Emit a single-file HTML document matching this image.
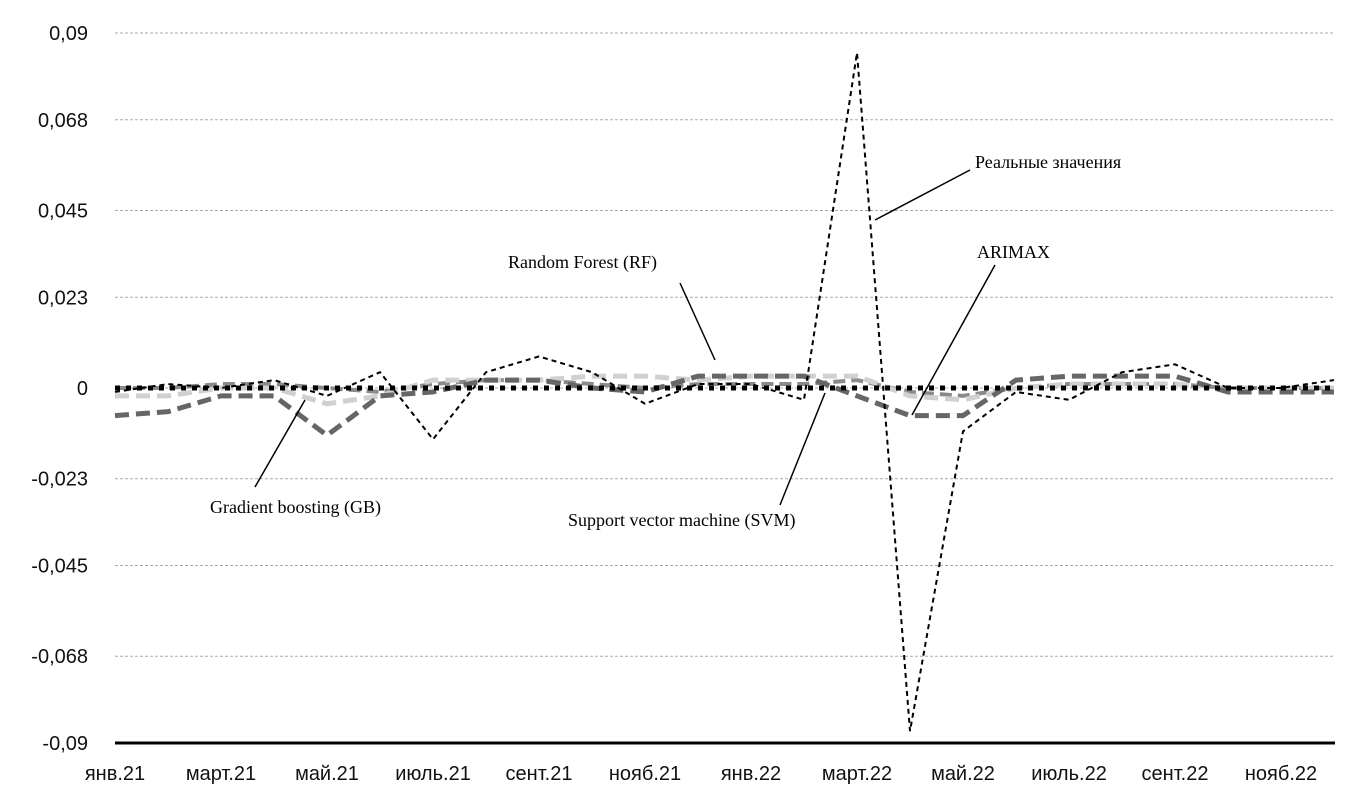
<!DOCTYPE html>
<html><head><meta charset="utf-8"><style>
body{margin:0;background:#fff;width:1354px;height:793px;overflow:hidden}
svg text{font-family:"Liberation Sans",sans-serif}
.ann{font-family:"Liberation Serif",serif;font-size:18px}
</style></head><body>
<svg id="chart" width="1354" height="793" xmlns="http://www.w3.org/2000/svg">
<g id="grid"></g><g id="series"></g><g id="labels"></g>
<g stroke="#000" stroke-width="1.5">
<line x1="970" y1="170" x2="875" y2="220"/><line x1="995" y1="265" x2="912" y2="415"/>
<line x1="680" y1="283" x2="715" y2="360"/><line x1="255" y1="487" x2="305" y2="400"/>
<line x1="780" y1="505" x2="825" y2="393"/>
</g>
<text class="ann" x="975" y="168">Реальные значения</text>
<text class="ann" x="977" y="258">ARIMAX</text>
<text class="ann" x="508" y="268">Random Forest (RF)</text>
<text class="ann" x="210" y="513">Gradient boosting (GB)</text>
<text class="ann" x="568" y="526">Support vector machine (SVM)</text>
</svg>
<script>
const categories=["янв.21","февр.21","март.21","апр.21","май.21","июнь.21","июль.21","авг.21","сент.21","окт.21","нояб.21","дек.21","янв.22","февр.22","март.22","апр.22","май.22","июнь.22","июль.22","авг.22","сент.22","окт.22","нояб.22","дек.22"];
const realValues=[-0.001,0.001,0.000,0.002,-0.002,0.004,-0.013,0.004,0.008,0.004,-0.004,0.001,0.001,-0.003,0.085,-0.087,-0.011,-0.001,-0.003,0.004,0.006,0.000,0.000,0.002];
const arimaxValues=[-0.007,-0.006,-0.002,-0.002,-0.012,-0.002,-0.001,0.002,0.002,0.000,-0.001,0.003,0.003,0.003,-0.002,-0.007,-0.007,0.002,0.003,0.003,0.003,-0.001,-0.001,-0.001];
const gbValues=[-0.002,-0.002,0.000,0.000,-0.004,-0.002,0.002,0.002,0.002,0.003,0.003,0.002,0.003,0.003,0.003,-0.002,-0.003,0.000,0.001,0.001,0.001,0.000,0.000,0.000];
const rfValues=[0.000,0.000,0.001,0.001,0.000,-0.001,0.001,0.002,0.002,0.001,0.000,0.001,0.001,0.001,0.002,-0.001,-0.002,0.000,0.001,0.001,0.001,0.000,0.000,0.000];
const svmValues=[0,0,0,0,0,0,0,0,0,0,0,0,0,0,0,0,0,0,0,0,0,0,0,0];
const yTicks=[0.09,0.068,0.045,0.023,0,-0.023,-0.045,-0.068,-0.09];
const yTickLabels=["0,09","0,068","0,045","0,023","0","-0,023","-0,045","-0,068","-0,09"];
const xLabelIdx=[0,2,4,6,8,10,12,14,16,18,20,22];
const NS="http://www.w3.org/2000/svg";
const X=i=>115+i*53.0, Y=v=>388-v*(355/0.09);
function mk(t,a,p){const e=document.createElementNS(NS,t);for(const k in a)e.setAttribute(k,a[k]);p.appendChild(e);return e;}
const grid=document.getElementById('grid'),ser=document.getElementById('series'),lab=document.getElementById('labels');
yTicks.forEach((v,i)=>{
  if(v!==-0.09){const l=mk('line',{x1:115,x2:1335,y1:Y(v),y2:Y(v),stroke:'#aaa','stroke-width':1,'stroke-dasharray':'3,2'},grid);
  
  }
  const t=mk('text',{x:88,y:Y(v)+7,'text-anchor':'end','font-size':20,fill:'#111'},lab);t.textContent=yTickLabels[i];
  
  
});
const ax=mk('line',{x1:115,x2:1335,y1:Y(-0.09),y2:Y(-0.09),stroke:'#000','stroke-width':3},grid);


xLabelIdx.forEach(i=>{const t=mk('text',{x:X(i),y:780,'text-anchor':'middle','font-size':20,fill:'#111'},lab);t.textContent=categories[i];
  
  });
function line(vals,name,st){const p=mk('polyline',Object.assign({points:vals.map((v,i)=>X(i)+','+Y(v)).join(' '),fill:'none'},st),ser);
  
  }
line(rfValues,'rf-line',{stroke:'#8a8a8a','stroke-width':4,'stroke-dasharray':'12,6'});
line(gbValues,'gb-line',{stroke:'#d0d0d0','stroke-width':5,'stroke-dasharray':'14,7'});
line(arimaxValues,'arimax-line',{stroke:'#666','stroke-width':5,'stroke-dasharray':'14,7'});
line(svmValues,'svm-line',{stroke:'#000','stroke-width':5,'stroke-dasharray':'5,6'});
line(realValues,'real-values-line',{stroke:'#000','stroke-width':2,'stroke-dasharray':'5,4'});
</script>
</body></html>
